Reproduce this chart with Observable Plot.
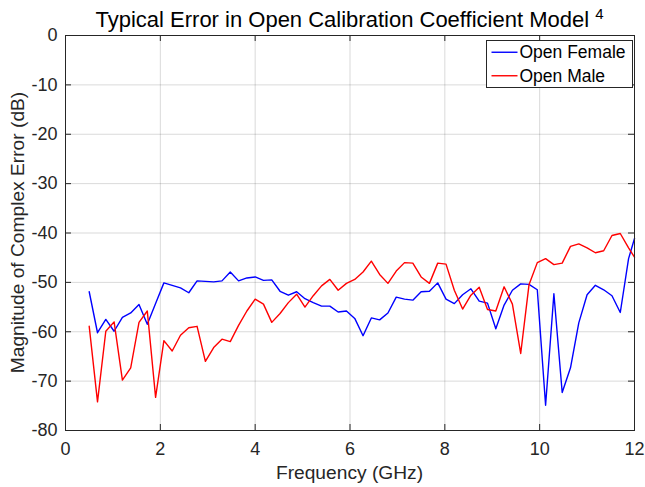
<!DOCTYPE html>
<html>
<head>
<meta charset="utf-8">
<script src="https://cdn.jsdelivr.net/npm/d3@7"></script>
<script src="https://cdn.jsdelivr.net/npm/@observablehq/plot@0.6"></script>
<style>
  html, body { margin: 0; padding: 0; background: #fff; }
</style>
</head>
<body>
<div id="chart"></div>
<script>
const freqGHz = [0.5, 0.675, 0.85, 1.025, 1.2, 1.375, 1.55, 1.725, 1.9, 2.075,
  2.25, 2.425, 2.6, 2.775, 2.95, 3.125, 3.3, 3.475, 3.65, 3.825,
  4.0, 4.175, 4.35, 4.525, 4.7, 4.875, 5.05, 5.225, 5.4, 5.575,
  5.75, 5.925, 6.1, 6.275, 6.45, 6.625, 6.8, 6.975, 7.15, 7.325,
  7.5, 7.675, 7.85, 8.025, 8.2, 8.375, 8.55, 8.725, 8.9, 9.075,
  9.25, 9.425, 9.6, 9.775, 9.95, 10.125, 10.3, 10.475, 10.65, 10.825,
  11.0, 11.175, 11.35, 11.525, 11.7, 11.875, 12.0];

const openFemale = [-51.9, -60.2, -57.5, -59.9, -57.1, -56.2, -54.5, -58.5, -54.3, -50.1,
  -50.6, -51.1, -52.1, -49.7, -49.8, -49.9, -49.7, -47.9, -49.7, -49.1,
  -48.9, -49.6, -49.5, -51.8, -52.6, -51.9, -53.3, -54.1, -54.8, -54.8,
  -56.0, -55.8, -57.3, -60.8, -57.2, -57.6, -56.2, -53.0, -53.4, -53.6,
  -51.9, -51.8, -50.1, -53.4, -54.3, -52.5, -51.3, -53.8, -54.2, -59.4,
  -54.6, -51.6, -50.3, -50.4, -51.5, -74.9, -52.3, -72.3, -67.3, -58.2,
  -52.5, -50.6, -51.5, -52.7, -56.1, -45.2, -41.1];

const openMale = [-58.9, -74.2, -59.9, -58.0, -69.8, -67.3, -58.1, -55.8, -73.3, -61.8,
  -63.9, -60.7, -59.2, -58.9, -66.0, -63.2, -61.5, -62.0, -58.7, -55.8,
  -53.4, -54.4, -58.1, -56.3, -54.1, -52.4, -55.0, -52.7, -50.7, -49.4,
  -51.6, -50.2, -49.4, -47.9, -45.7, -48.4, -50.2, -47.7, -46.0, -46.1,
  -48.9, -50.2, -46.1, -46.3, -51.6, -55.4, -52.6, -51.0, -55.5, -55.8,
  -50.9, -54.4, -64.4, -50.5, -46.0, -45.2, -46.4, -46.1, -42.7, -42.2,
  -43.0, -44.0, -43.6, -40.5, -40.1, -43.0, -44.9];

const seriesNames = ["Open Female", "Open Male"];
const seriesColors = ["#0000ff", "#ff0000"];
const xTicks = [0, 2, 4, 6, 8, 10, 12];
const yTicks = [0, -10, -20, -30, -40, -50, -60, -70, -80];
const titleText = "Typical Error in Open Calibration Coefficient Model";
const titleSup = "4";
const xLabel = "Frequency (GHz)";
const yLabel = "Magnitude of Complex Error (dB)";

const W = 645, H = 487;
const mL = 65, mR = 11, mT = 35, mB = 57;
const pw = W - mL - mR, ph = H - mT - mB;
const axisColor = "#262626";
const tickLen = 6;

const female = freqGHz.map((f, i) => ({f, v: openFemale[i]}));
const male = freqGHz.map((f, i) => ({f, v: openMale[i]}));

const chart = Plot.plot({
  width: W, height: H,
  marginLeft: mL, marginRight: mR, marginTop: mT, marginBottom: mB,
  style: {fontFamily: "'Liberation Sans', Arial, Helvetica, sans-serif", fontSize: "18px", background: "#fff", color: axisColor},
  x: {domain: [0, 12]},
  y: {domain: [-80, 0]},
  marks: [
    Plot.gridX(xTicks, {x: d => d, stroke: "#000", strokeOpacity: 0.15}),
    Plot.gridY(yTicks, {y: d => d, stroke: "#000", strokeOpacity: 0.15}),
    Plot.line(female, {x: "f", y: "v", stroke: seriesColors[0], strokeWidth: 1.4}),
    Plot.line(male, {x: "f", y: "v", stroke: seriesColors[1], strokeWidth: 1.4}),
    Plot.tickX(xTicks, {x: d => d, insetTop: ph - tickLen, stroke: axisColor}),
    Plot.tickX(xTicks, {x: d => d, insetBottom: ph - tickLen, stroke: axisColor}),
    Plot.tickY(yTicks, {y: d => d, insetRight: pw - tickLen, stroke: axisColor}),
    Plot.tickY(yTicks, {y: d => d, insetLeft: pw - tickLen, stroke: axisColor}),
    Plot.axisX({ticks: xTicks, tickSize: 0, tickPadding: 12, label: null, tickFormat: d => String(d), fill: axisColor}),
    Plot.axisY({ticks: yTicks, tickSize: 0, tickPadding: 8, label: null, tickFormat: d => String(d), fill: axisColor}),
    Plot.frame({stroke: axisColor, strokeWidth: 1})
  ]
});

document.getElementById("chart").appendChild(chart);

const svg = d3.select(chart);
const ff = "'Liberation Sans', Arial, Helvetica, sans-serif";

// Title with superscript
const t = svg.append("text")
  .attr("x", mL + pw / 2).attr("y", 27)
  .attr("text-anchor", "middle")
  .attr("font-family", ff).attr("font-size", 22).attr("fill", "#000");
t.append("tspan").text(titleText + " ");
t.append("tspan").attr("font-size", 15).attr("dy", -8).text(titleSup);

// Axis labels
svg.append("text")
  .attr("x", mL + pw / 2).attr("y", 479)
  .attr("text-anchor", "middle")
  .attr("font-family", ff).attr("font-size", 19.2).attr("fill", axisColor)
  .text(xLabel);
svg.append("text")
  .attr("transform", `translate(24,${mT + ph / 2}) rotate(-90)`)
  .attr("text-anchor", "middle")
  .attr("font-family", ff).attr("font-size", 19.2).attr("fill", axisColor)
  .text(yLabel);

// Legend
const lg = svg.append("g");
const lx = 486.5, ly = 40.5, lw = 146, lh = 47;
lg.append("rect").attr("x", lx).attr("y", ly).attr("width", lw).attr("height", lh)
  .attr("fill", "#fff").attr("stroke", axisColor).attr("stroke-width", 1);
seriesNames.forEach((name, i) => {
  const cy = ly + lh * (i === 0 ? 0.25 : 0.75);
  lg.append("line").attr("x1", lx + 5).attr("x2", lx + 31).attr("y1", cy).attr("y2", cy)
    .attr("stroke", seriesColors[i]).attr("stroke-width", 1.4);
  lg.append("text").attr("x", lx + 33).attr("y", cy).attr("dy", "0.35em")
    .attr("text-anchor", "start")
    .attr("font-family", ff).attr("font-size", 17.5).attr("fill", "#000").text(name);
});
</script>
</body>
</html>
